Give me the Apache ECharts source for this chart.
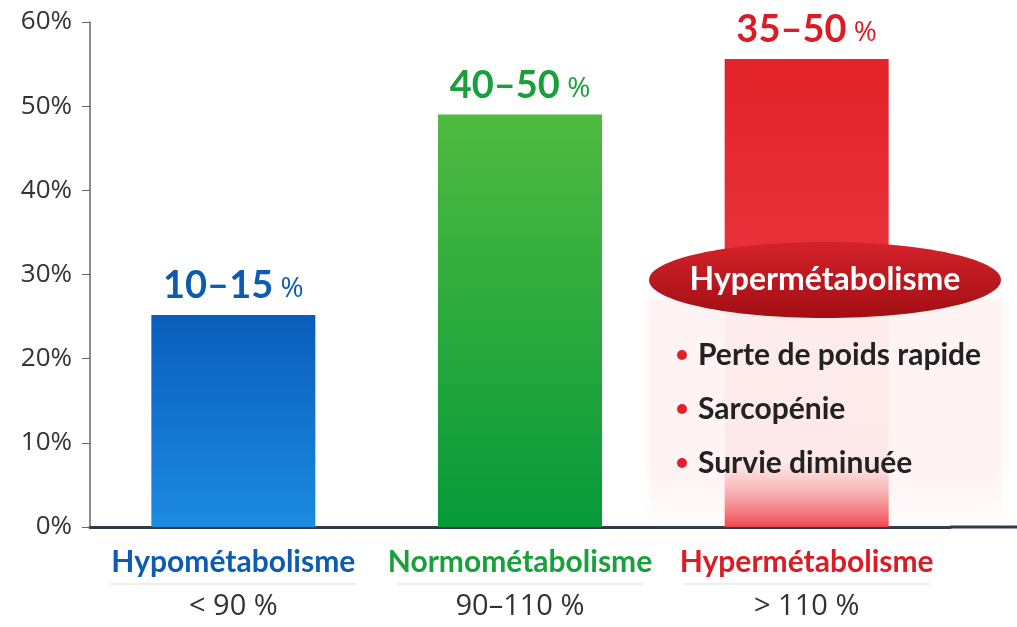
<!DOCTYPE html>
<html>
<head>
<meta charset="utf-8">
<script src="https://cdn.jsdelivr.net/npm/echarts@6/dist/echarts.min.js"></script>
<style>
	html, body { margin: 0; padding: 0; background: #ffffff; }
	#chart { width: 1017px; height: 627px; }
</style>
</head>
<body>
<div id="chart"></div>
<script>
// data
var categories   = ['Hypométabolisme', 'Normométabolisme', 'Hypermétabolisme'];
var ranges       = ['< 90 %', '90–110 %', '> 110 %'];
var values       = [25.2, 49, 55.6];
var valueLabels  = ['10–15', '40–50', '35–50'];
var calloutTitle = 'Hypermétabolisme';
var calloutItems = ['Perte de poids rapide', 'Sarcopénie', 'Survie diminuée'];

// styles
var NARROW = "Lato, sans-serif";
var textColors = ['#0d5cb2', '#18a03a', '#dc1c25'];
var barColors = [
	['#0a5dbb', '#1c8be0'],
	['#4fba40', '#07993a'],
	['#e2232a', '#ef454c']
];

var myChart = echarts.init(document.getElementById('chart'));

function grad(c) {
	return new echarts.graphic.LinearGradient(0, 0, 0, 1, [
		{ offset: 0, color: c[0] },
		{ offset: 1, color: c[1] }
	]);
}

var barData = [];
for (var i = 0; i < values.length; i++) {
	barData.push({ value: values[i], itemStyle: { color: grad(barColors[i]) } });
}

var richLabel = {};
var richAxis = {
	sep: { width: 246, height: 1, lineHeight: 6, backgroundColor: '#dddddd' },
	r: { fontFamily: 'Open Sans', fontSize: 29, color: '#333333', lineHeight: 40 }
};
for (var i = 0; i < textColors.length; i++) {
	richLabel['v' + i] = { fontFamily: NARROW, fontWeight: 'bold', fontSize: 38, color: textColors[i] };
	richLabel['p' + i] = { fontFamily: 'Open Sans', fontSize: 28, color: textColors[i], padding: [6, 0, 0, 0] };
	richAxis['n' + i] = { fontFamily: NARROW, fontWeight: 'bold', fontSize: 30, color: textColors[i], lineHeight: 38 };
}

var chartOption = {
	backgroundColor: '#ffffff',
	animation: false,
	grid: { left: 90, right: 67, top: 22, bottom: 100 },
	xAxis: {
		type: 'category',
		data: categories,
		axisLine: { lineStyle: { color: '#2f3a4a', width: 3 } },
		axisTick: { inside: true, length: 6, lineStyle: { color: '#2f3a4a' } },
		axisLabel: {
			interval: 0,
			margin: 16,
			formatter: function (val, idx) {
				return '{n' + idx + '|' + val + '}\n{sep| }\n{r|' + ranges[idx] + '}';
			},
			rich: richAxis
		}
	},
	yAxis: {
		type: 'value',
		min: 0,
		max: 60,
		interval: 10,
		axisLine: { show: true, lineStyle: { color: '#666666', width: 1.5 } },
		axisTick: { show: true, length: 8, lineStyle: { color: '#666666' } },
		splitLine: { show: false },
		axisLabel: {
			margin: 18,
			fontFamily: 'Open Sans',
			fontSize: 26,
			color: '#333333',
			formatter: '{value}%'
		}
	},
	series: [
		{
			type: 'bar',
			barWidth: 164,
			data: barData,
			label: {
				show: true,
				position: 'top',
				distance: 10,
				formatter: function (p) {
					var i = p.dataIndex;
					return '{v' + i + '|' + valueLabels[i] + '}{p' + i + '| %}';
				},
				rich: richLabel
			}
		}
	]
};

myChart.setOption(chartOption);

// callout + extra axis line
var y0 = myChart.convertToPixel({ yAxisIndex: 0 }, 0);
var elems = [
	{
		type: 'line', z: 20,
		shape: { x1: 1017 - 67, y1: y0, x2: 1017, y2: y0 },
		style: { stroke: '#2f3a4a', lineWidth: 3 }
	},
	{
		type: 'rect', z: 10,
		shape: { x: 650, y: 300, width: 352, height: y0 - 302 },
		style: {
			fill: new echarts.graphic.LinearGradient(0, 0, 0, 1, [
				{ offset: 0, color: 'rgba(255,244,244,0.92)' },
				{ offset: 0.72, color: 'rgba(255,244,244,0.88)' },
				{ offset: 1, color: 'rgba(255,244,244,0.05)' }
			]),
			shadowBlur: 12,
			shadowColor: 'rgba(255,230,230,0.6)'
		}
	},
	{
		type: 'ellipse', z: 11,
		shape: { cx: 825, cy: 280, rx: 176, ry: 38 },
		style: {
			fill: new echarts.graphic.LinearGradient(0, 0, 0, 1, [
				{ offset: 0, color: '#d4222a' },
				{ offset: 1, color: '#a20e14' }
			])
		}
	},
	{
		type: 'text', z: 12,
		x: 825, y: 280,
		style: {
			text: calloutTitle,
			fill: '#ffffff',
			font: 'bold 32px ' + NARROW,
			textAlign: 'center',
			textVerticalAlign: 'middle'
		}
	}
];
for (var i = 0; i < calloutItems.length; i++) {
	var yy = 355 + i * 54;
	elems.push({
		type: 'circle', z: 12,
		shape: { cx: 682, cy: yy, r: 5 },
		style: { fill: '#e0202a' }
	});
	elems.push({
		type: 'text', z: 12,
		x: 698, y: yy,
		style: {
			text: calloutItems[i],
			fill: '#222222',
			font: 'bold 30px ' + NARROW,
			textAlign: 'left',
			textVerticalAlign: 'middle'
		}
	});
}
myChart.setOption({ graphic: { elements: elems } });
</script>
</body>
</html>
